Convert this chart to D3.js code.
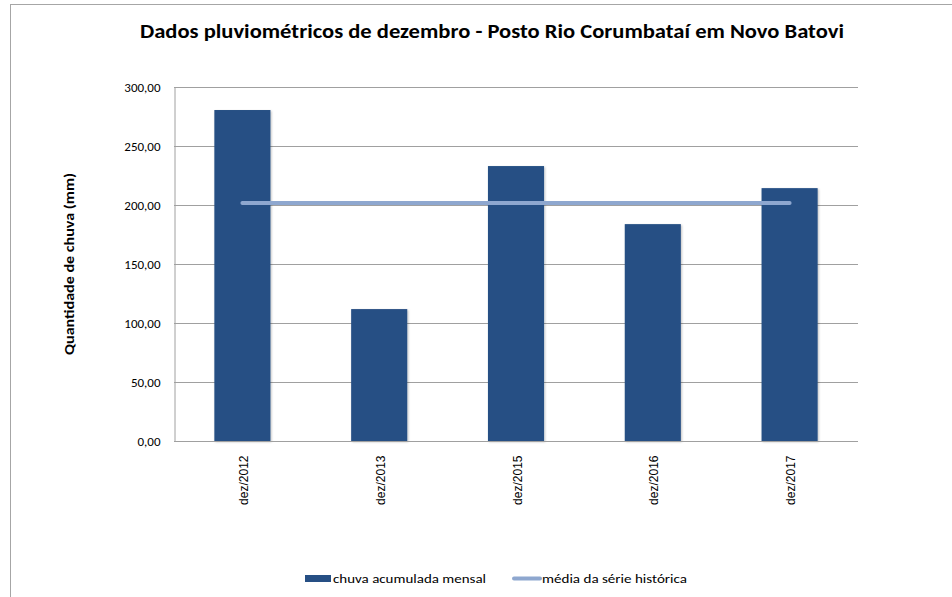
<!DOCTYPE html>
<html>
<head>
<meta charset="utf-8">
<script src="https://cdn.jsdelivr.net/npm/d3@7"></script>
<style>
  body { margin: 0; background: #fff; }
  text { font-family: Carlito, Calibri, "Open Sans", sans-serif; fill: #000; }
</style>
</head>
<body>
<svg id="chart" width="952" height="597"></svg>
<script>
// dados
var categorias = ["dez/2012", "dez/2013", "dez/2015", "dez/2016", "dez/2017"];
var chuvaMensal = [280.5, 111.8, 233.0, 183.8, 214.3];
var mediaSerie = [201.7, 201.7, 201.7, 201.7, 201.7];
var yTicks = [0, 50, 100, 150, 200, 250, 300];

var svg = d3.select("#chart");
var pLeft = 174, pRight = 858, pTop = 87, pBottom = 441;

// moldura
svg.append("rect").attr("x", 10.5).attr("y", 4.5).attr("width", 960).attr("height", 620)
    .attr("fill", "none").attr("stroke", "#a6a6a6").attr("stroke-width", 1);

var defs = svg.append("defs");
var f = defs.append("filter").attr("id", "sombra").attr("x", "-10%").attr("y", "-10%")
    .attr("width", "130%").attr("height", "130%");
f.append("feDropShadow").attr("dx", 1).attr("dy", 1).attr("stdDeviation", 1)
    .attr("flood-color", "#000").attr("flood-opacity", 0.25);

var x = d3.scaleBand().domain(categorias).range([pLeft, pRight]).paddingInner(0.59).paddingOuter(0.295);
var xc = d3.scalePoint().domain(categorias).range([pLeft, pRight]).padding(0.5);
var y = d3.scaleLinear().domain([0, 300]).range([pBottom, pTop]);

// grade
svg.append("g").selectAll("line").data(yTicks).join("line")
    .attr("x1", pLeft).attr("x2", pRight)
    .attr("y1", function (d) { return Math.round(y(d)) + 0.5; })
    .attr("y2", function (d) { return Math.round(y(d)) + 0.5; })
    .attr("stroke", "#a0a0a0").attr("stroke-width", 1);

// eixo y
var yAxis = svg.append("g").attr("transform", "translate(" + (pLeft + 0.5) + ",0)")
    .call(d3.axisLeft(y).tickValues(yTicks).tickSize(0).tickPadding(14)
        .tickFormat(function (d) { return d3.format(".2f")(d).replace(".", ","); }));
yAxis.select(".domain").attr("stroke", "#a0a0a0");
yAxis.selectAll("text").style("font-size", "13px").style("font-family", "Carlito, Calibri, 'Open Sans', sans-serif")
    .attr("dy", "0.36em");

// barras
svg.append("g").selectAll("rect").data(chuvaMensal).join("rect")
    .attr("x", function (d, i) { return x(categorias[i]); })
    .attr("width", x.bandwidth())
    .attr("y", function (d) { return y(d); })
    .attr("height", function (d) { return y(0) - y(d); })
    .attr("fill", "#264f84")
    .attr("filter", "url(#sombra)");

// eixo x
var xAxis = svg.append("g").attr("transform", "translate(0," + (pBottom + 0.5) + ")")
    .call(d3.axisBottom(xc).tickSize(0).tickPadding(0));
xAxis.select(".domain").attr("stroke", "#a0a0a0").attr("d", "M" + pLeft + ",0H" + pRight);
xAxis.selectAll("text")
    .attr("transform", "translate(5,14) rotate(-90)")
    .attr("text-anchor", "end").attr("dy", 0).attr("y", 0).attr("x", 0)
    .style("font-family", "'Liberation Sans', Arial, sans-serif").style("font-size", "12px");

// média
var linha = d3.line().x(function (d, i) { return xc(categorias[i]); }).y(function (d) { return y(d); });
svg.append("path").datum(mediaSerie).attr("d", linha)
    .attr("fill", "none").attr("stroke", "#8ea7cf").attr("stroke-width", 4).attr("stroke-linecap", "round");

// título
svg.append("text").attr("x", 492).attr("y", 38).attr("text-anchor", "middle")
    .attr("textLength", 704).attr("lengthAdjust", "spacingAndGlyphs")
    .style("font-size", "20px").style("font-weight", "bold")
    .text("Dados pluviométricos de dezembro - Posto Rio Corumbataí em Novo Batovi");

// título eixo y
svg.append("text").attr("transform", "translate(74,264) rotate(-90)").attr("text-anchor", "middle")
    .attr("textLength", 182).attr("lengthAdjust", "spacingAndGlyphs")
    .style("font-size", "14px").style("font-weight", "bold")
    .text("Quantidade de chuva (mm)");

// legenda
var leg = svg.append("g");
leg.append("rect").attr("x", 305).attr("y", 575).attr("width", 26).attr("height", 7).attr("fill", "#264f84");
leg.append("text").attr("x", 333).attr("y", 583).attr("textLength", 153).attr("lengthAdjust", "spacingAndGlyphs")
    .style("font-size", "13px").text("chuva acumulada mensal");
leg.append("line").attr("x1", 514).attr("x2", 540).attr("y1", 578.5).attr("y2", 578.5)
    .attr("stroke", "#8ea7cf").attr("stroke-width", 4).attr("stroke-linecap", "round");
leg.append("text").attr("x", 542).attr("y", 583).attr("textLength", 145).attr("lengthAdjust", "spacingAndGlyphs")
    .style("font-size", "13px").text("média da série histórica");
</script>
</body>
</html>
